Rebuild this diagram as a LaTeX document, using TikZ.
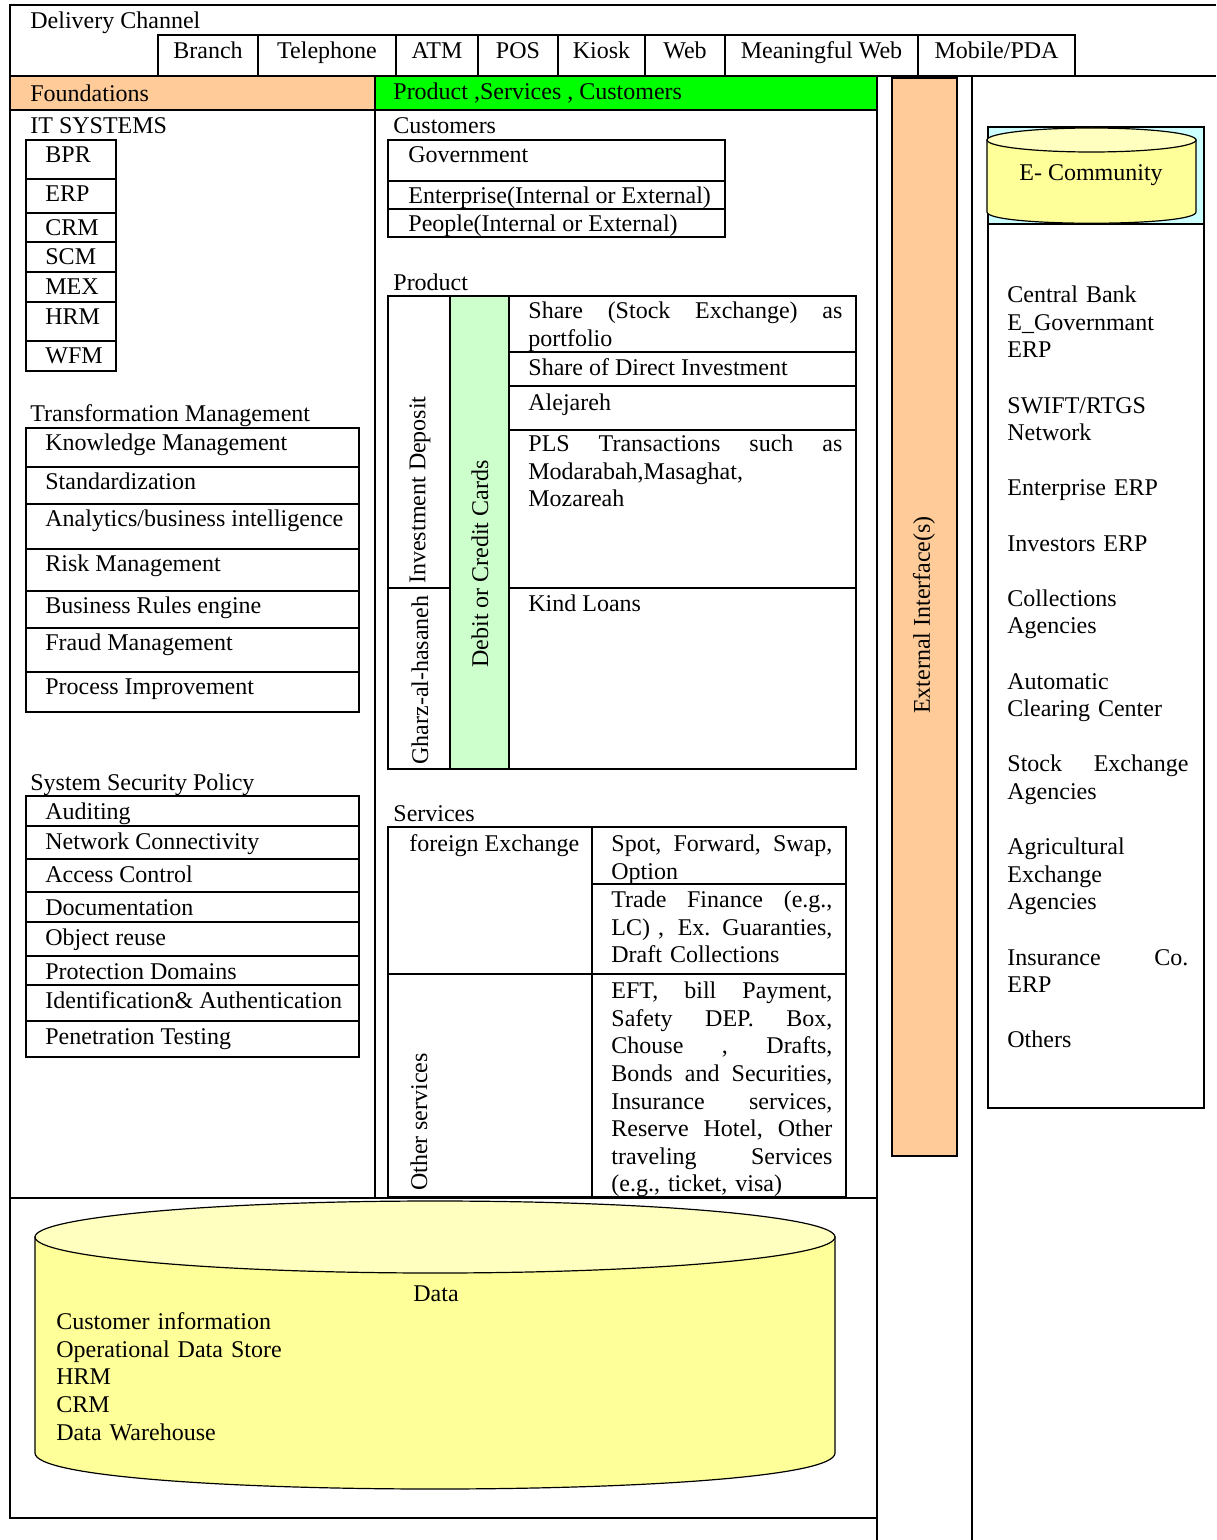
\documentclass[tikz,border=0pt]{standalone}
\usepackage{fontspec}
\setmainfont{Liberation Serif}

\definecolor{peach}{HTML}{FFCC99}
\definecolor{brightgreen}{HTML}{00FF00}
\definecolor{palegreen}{HTML}{CCFFCC}
\definecolor{palecyan}{HTML}{CCFFFF}
\definecolor{paleyellow}{HTML}{FFFF99}
\definecolor{lightyellow}{HTML}{FFFFBF}

\tikzset{
  frame/.style={line width=1pt},
  drum/.style={line width=0.6pt},
  lbl/.style={anchor=base west, inner sep=0pt, yshift=-0.8pt},
  clbl/.style={anchor=base, inner sep=0pt, yshift=-0.8pt},
  rlbl/.style={anchor=center, inner sep=0pt, rotate=90},
  para/.style={anchor=base west, inner sep=0pt, yshift=-0.8pt, align=left, text width=#1},
}

\begin{document}
\begin{tikzpicture}[x=0.5pt, y=-0.5pt,
    every node/.style={font=\fontsize{12pt}{13.8pt}\selectfont}]
  \useasboundingbox (0,0) rectangle (1216,1540);

  % coloured bars
  \fill[peach] (10,76) rectangle (375,110);
  \fill[brightgreen] (375,76) rectangle (877,110);

  % outer frame and panel lines
  \draw[frame] (1216,5) -- (10,5) -- (10,1518) -- (877,1518);
  \draw[frame] (10,76) -- (1216,76);
  \draw[frame] (10,110) -- (877,110);
  \draw[frame] (375,76) -- (375,1198);
  \draw[frame] (10,1198) -- (877,1198);
  \draw[frame] (877,76) -- (877,1540);
  \draw[frame] (972,76) -- (972,1540);

  % delivery channel
  \node[lbl] (delivery) at (30,27) {Delivery Channel};
  \foreach \l/\r/\txt [count=\i] in {158/258/Branch, 258/396/Telephone, 396/478/ATM,
      478/558/POS, 558/645/Kiosk, 645/725/Web, 725/918/Meaningful Web, 918/1075/{Mobile/PDA}} {
    \draw[frame] (\l,35) rectangle (\r,76);
    \node[clbl] (dc\i) at ({(\l+\r)/2},57) {\txt};
  }

  \node[lbl] (foundations) at (30,100) {Foundations};
  \node[lbl] (psc) at (393,98) {Product ,Services , Customers};

  % IT systems
  \node[lbl] (itsys) at (30,132) {IT SYSTEMS};
  \foreach \t/\b/\txt [count=\i] in {140/179/BPR, 179/213/ERP, 213/242/CRM, 242/272/SCM,
      272/302/MEX, 302/341/HRM, 341/371/WFM} {
    \draw[frame] (26,\t) rectangle (116,\b);
    \node[lbl] (it\i) at (45,\t+21) {\txt};
  }

  % transformation management
  \node[lbl] (tm) at (30,420) {Transformation Management};
  \foreach \t/\b/\txt [count=\i] in {428/467/Knowledge Management, 467/504/Standardization,
      504/549/{Analytics/business intelligence}, 549/591/Risk Management,
      591/628/Business Rules engine, 628/672/Fraud Management, 672/712/Process Improvement} {
    \draw[frame] (26,\t) rectangle (359,\b);
    \node[lbl] (tm\i) at (45,\t+21) {\txt};
  }

  % system security policy
  \node[lbl] (ssp) at (30,789) {System Security Policy};
  \foreach \t/\b/\txt [count=\i] in {796/826/Auditing, 826/859/Network Connectivity,
      859/892/Access Control, 892/922/Documentation, 922/956/Object reuse,
      956/985/Protection Domains, 985/1021/{Identification\& Authentication},
      1021/1057/Penetration Testing} {
    \draw[frame] (26,\t) rectangle (359,\b);
    \node[lbl] (sec\i) at (45,\t+22) {\txt};
  }

  % customers
  \node[lbl] (cust) at (393,132) {Customers};
  \foreach \t/\b/\txt [count=\i] in {140/181/Government, 181/209/Enterprise(Internal or External),
      209/237/People(Internal or External)} {
    \draw[frame] (388,\t) rectangle (725,\b);
    \node[lbl] (cust\i) at (408,\t+21) {\txt};
  }

  % product
  \node[lbl] (product) at (393,289) {Product};
  \fill[palegreen] (450,296) rectangle (509,769);
  \draw[frame] (388,296) rectangle (856,769);
  \draw[frame] (450,296) -- (450,769) (509,296) -- (509,769);
  \draw[frame] (509,352) -- (856,352) (509,386) -- (856,386) (509,430) -- (856,430)
    (388,588) -- (450,588) (509,588) -- (856,588);
  \node[rlbl] (invest) at (420,490) {Investment Deposit};
  \node[rlbl] (gharz) at (420,680) {Gharz-al-hasaneh};
  \node[rlbl] (cards) at (480,564) {Debit or Credit Cards};
  \node[para=157pt] (share) at (528,317) {Share \hfill (Stock \hfill Exchange) \hfill as\\portfolio};
  \node[lbl] (direct) at (528,374) {Share of Direct Investment};
  \node[lbl] (alejareh) at (528,409) {Alejareh};
  \node[para=157pt] (pls) at (528,450) {PLS \hfill Transactions \hfill such \hfill as\\Modarabah,Masaghat,\\Mozareah};
  \node[lbl] (loans) at (528,610) {Kind Loans};

  % services
  \node[lbl] (services) at (393,820) {Services};
  \draw[frame] (388,827) rectangle (846,1197);
  \draw[frame] (592,827) -- (592,1197) (592,884) -- (846,884) (388,974) -- (846,974);
  \node[lbl] (forex) at (409,850) {foreign Exchange};
  \node[rlbl] (other) at (419,1122) {Other services};
  \node[para=110.5pt] (spot) at (611,850) {Spot, \hfill Forward, \hfill Swap,\\Option};
  \node[para=110.5pt] (trade) at (611,906) {Trade \hfill Finance \hfill (e.g.,\\LC) , \hfill Ex. Guaranties,\\Draft Collections};
  \node[para=110.5pt] (eft) at (611,997) {EFT, \hfill bill \hfill Payment,\\
    Safety \hfill DEP. \hfill Box,\\
    Chouse \hfill , \hfill Drafts,\\
    Bonds \hfill and \hfill Securities,\\
    Insurance \hfill services,\\
    Reserve \hfill Hotel, \hfill Other\\
    traveling \hfill Services\\
    (e.g., ticket, visa)};

  % external interface
  \draw[frame, fill=peach] (892,78) rectangle (957,1156);
  \node[rlbl] (extif) at (924,615) {External Interface(s)};

  % e-community
  \fill[palecyan] (988,127) rectangle (1204,224);
  \draw[frame] (988,127) rectangle (1204,1108);
  \draw[frame] (988,224) -- (1204,224);
  \draw[drum, fill=paleyellow] (987,140) -- (987,212) .. controls (987,227) and (1196,227) .. (1196,212) -- (1196,140) -- cycle;
  \draw[drum, fill=lightyellow] (1091.5,140) ellipse [x radius=104.5, y radius=12];
  \node[clbl] (ecomm) at (1091,179) {E- Community};
  \node[para=90.5pt] (partners) at (1007,301) {Central Bank\\E\_Governmant\\ERP\\[13.8pt]
    SWIFT/RTGS\\Network\\[13.8pt]
    Enterprise ERP\\[13.8pt]
    Investors ERP\\[13.8pt]
    Collections\\Agencies\\[13.8pt]
    Automatic\\Clearing Center\\[13.8pt]
    Stock \hfill Exchange\\Agencies\\[13.8pt]
    Agricultural\\Exchange\\Agencies\\[13.8pt]
    Insurance \hfill Co.\\ERP\\[13.8pt]
    Others};

  % data store
  \draw[drum, fill=paleyellow] (35,1237) -- (35,1453) .. controls (35,1501) and (835,1501) .. (835,1453) -- (835,1237) -- cycle;
  \draw[drum, fill=lightyellow] (435,1237) ellipse [x radius=400, y radius=36];
  \node[clbl] (data) at (436,1300) {Data};
  \node[para=300pt] (dataitems) at (56,1328) {Customer information\\Operational Data Store\\HRM\\CRM\\Data Warehouse};
\end{tikzpicture}
\end{document}
